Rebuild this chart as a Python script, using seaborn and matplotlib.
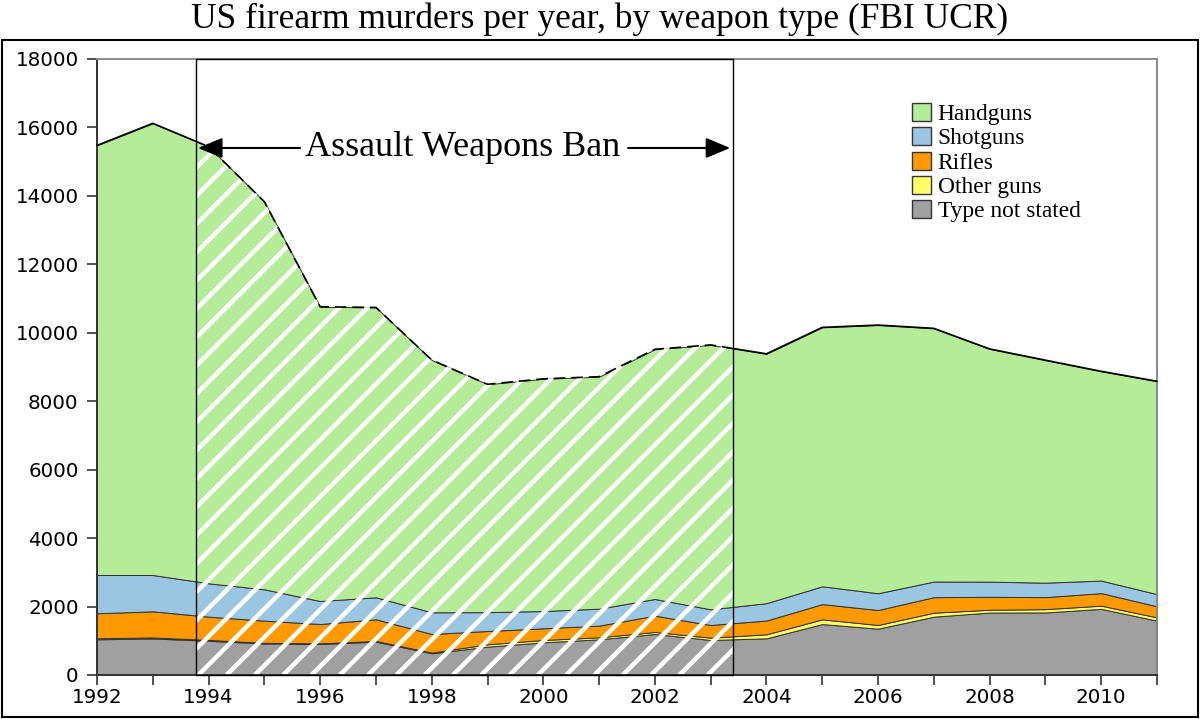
import numpy as np
import pandas as pd
import matplotlib
matplotlib.use("Agg")
import matplotlib.pyplot as plt
from matplotlib.patches import Rectangle, Patch
from matplotlib.collections import LineCollection
import seaborn as sns

# ---------------- data ----------------
years = list(range(1992, 2012))
handguns = [12553, 13198, 12761, 11327, 8598, 8470, 7373, 6659, 6785, 6779,
            7297, 7726, 7286, 7565, 7836, 7398, 6800, 6501, 6115, 6220]
shotguns = [1119, 1061, 974, 915, 672, 643, 634, 550, 506, 496,
            487, 458, 507, 522, 490, 457, 442, 423, 366, 356]
rifles = [730, 764, 680, 648, 565, 632, 544, 389, 341, 341,
          477, 371, 403, 445, 438, 453, 380, 351, 367, 323]
other_guns = [30, 30, 25, 20, 20, 20, 20, 69, 68, 58,
              59, 67, 117, 138, 107, 116, 81, 96, 93, 97]
not_stated = [1043, 1067, 1000, 920, 905, 975, 634, 828, 955, 1043,
              1198, 1023, 1072, 1488, 1354, 1705, 1825, 1828, 1933, 1587]

labels = ["Handguns", "Shotguns", "Rifles", "Other guns", "Type not stated"]
colors = ["#b4ec98", "#9bc6e1", "#ff9900", "#ffff66", "#a0a0a0"]
ban_start, ban_end = 1993.78, 2003.4
xticks = years
yticks = list(range(0, 18001, 2000))

df = pd.DataFrame({"year": years, "Handguns": handguns, "Shotguns": shotguns,
                   "Rifles": rifles, "Other guns": other_guns,
                   "Type not stated": not_stated})
df["total"] = df[labels].sum(axis=1)

# ---------------- style ----------------
sns.set_style("ticks")
plt.rcParams["font.family"] = ["DejaVu Sans"]
plt.rcParams["text.color"] = "black"

W, H = 1200, 719
fig = plt.figure(figsize=(W / 100, H / 100), dpi=100)
ax = fig.add_axes([97 / W, 1 - 675 / H, 1060 / W, 616 / H])

# stacked areas (bottom first)
stack_order = labels[::-1]
ax.stackplot(df["year"], *[df[c] for c in stack_order],
             colors=colors[::-1], edgecolor="#333333", linewidth=0.7, zorder=1)

ax.set_xlim(1992, 2011)
ax.set_ylim(0, 18000)

# hatch region under total, inside the ban period
xb = [ban_start] + [y for y in years if ban_start < y < ban_end] + [ban_end]
tb = np.interp(xb, df["year"], df["total"])
clip_coll = ax.fill_between(xb, 0, tb, facecolor="none", edgecolor="none")
clip_path = clip_coll.get_paths()[0]

axW, axH = 1060.0, 616.0
step = 28.3
segs = []
c = 16.4 - step * 30
while c < axW + step:
    segs.append([(c / axW, 0.0), ((c + axH) / axW, 1.0)])
    c += step
lc = LineCollection(segs, colors="white", linewidths=3.2,
                    transform=ax.transAxes, zorder=2)
ax.add_collection(lc)
lc.set_clip_path(clip_path, ax.transData)

# top outline: solid outside the ban, dashed inside
for (a, b) in [(1990, ban_start), (ban_end, 2013)]:
    sns.lineplot(x=df["year"], y=df["total"], ax=ax, color="black", lw=1.2,
                 zorder=3, estimator=None)
    ln = ax.lines[-1]
    ln.set_clip_path(Rectangle((a, 0), b - a, 20000, transform=ax.transData))
sns.lineplot(x=df["year"], y=df["total"], ax=ax, color="black", lw=1.2,
             zorder=3, estimator=None)
dashed = ax.lines[-1]
dashed.set_linestyle((0, (7, 3.5)))
dashed.set_clip_path(Rectangle((ban_start, 0), ban_end - ban_start, 20000,
                               transform=ax.transData))

# ban box
ax.add_patch(Rectangle((ban_start, 0), ban_end - ban_start, 18000,
                       fill=False, edgecolor="black", lw=1.0, zorder=4,
                       clip_on=False))

# annotation
ay = 15400
ax.text(1998.56, ay, "Assault Weapons Ban", ha="center", va="center",
        fontsize=26, family="Liberation Serif", color="black", zorder=5)
arrow_kw = dict(arrowstyle="-|>,head_length=0.6,head_width=0.25",
                mutation_scale=25, lw=1.5, color="black",
                shrinkA=0, shrinkB=0)
ax.annotate("", xy=(ban_start + 0.03, ay), xytext=(1995.64, ay),
            arrowprops=arrow_kw, zorder=5)
ax.annotate("", xy=(ban_end - 0.05, ay), xytext=(2001.52, ay),
            arrowprops=arrow_kw, zorder=5)

# axes styling
ax.set_xticks(xticks)
ax.set_xticklabels([str(y) if y % 2 == 0 else "" for y in xticks])
ax.set_yticks(yticks)
ax.set_yticklabels([str(v) for v in yticks])
ax.tick_params(axis="both", direction="out", length=7.2, width=1.2,
               color="#333333", labelsize=14.3, labelcolor="black")
ax.tick_params(axis="y", pad=6)
ax.tick_params(axis="x", pad=2)
for s in ["left", "bottom"]:
    ax.spines[s].set_color("#333333")
    ax.spines[s].set_linewidth(1.4)
for s in ["top", "right"]:
    ax.spines[s].set_visible(True)
    ax.spines[s].set_color("#888888")
    ax.spines[s].set_linewidth(1.4)
ax.set_xlabel("")
ax.set_ylabel("")
ax.grid(False)

# legend
handles = [Patch(facecolor=col, edgecolor="#333333", lw=1.0) for col in colors]
fig.legend(handles, labels, loc="upper left",
           bbox_to_anchor=(912 / W, 1 - 103 / H), frameon=False,
           prop={"family": "Liberation Serif", "size": 16.8},
           handlelength=0.8, handleheight=0.8, handletextpad=0.3,
           labelspacing=0.1, borderaxespad=0, borderpad=0)

# title and outer frame
fig.text(0.5, 1 - 19 / H, "US firearm murders per year, by weapon type (FBI UCR)",
         ha="center", va="center", fontsize=25.5, family="Liberation Serif",
         color="black")
fig.patches.append(Rectangle((1.5 / W, 1 - 717 / H), 1196 / W, 677 / H,
                             transform=fig.transFigure, fill=False,
                             edgecolor="black", lw=1.5))

fig.savefig("out.png", dpi=100)
